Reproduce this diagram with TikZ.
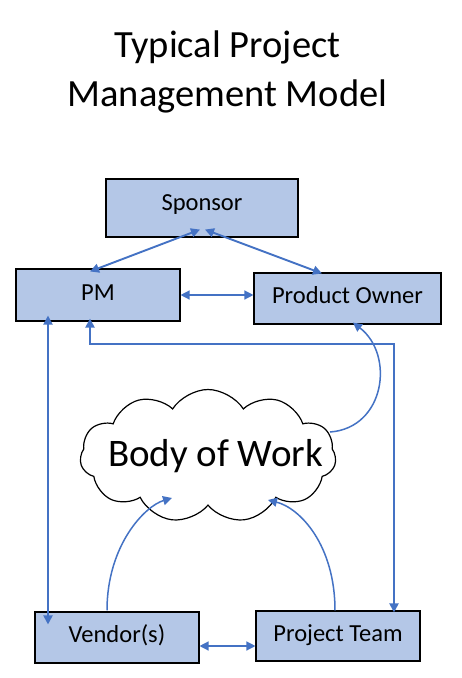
\documentclass[tikz,border=0pt]{standalone}
\usepackage{fontspec}
\setmainfont{Carlito}
\usetikzlibrary{shapes.symbols,arrows.meta,calc}
\definecolor{boxfill}{HTML}{B4C7E7}
\definecolor{linkblue}{HTML}{4472C4}
\begin{document}
\begin{tikzpicture}[x=1pt,y=-1pt,
  box/.style={draw=black, line width=1.1pt, fill=boxfill, inner sep=0pt,
    font=\fontsize{24.5}{28}\selectfont, text height=15pt, text depth=5pt},
  tip/.tip={Triangle[length=9pt,width=9pt]},
  thick link/.style={draw=linkblue, line width=1.9pt},
  thin link/.style={draw=linkblue, line width=1.3pt},
  curve link/.style={draw=linkblue, line width=1.5pt},
]
\useasboundingbox (0,0) rectangle (462,678);
\fill[white] (0,0) rectangle (462,678);

\node[font=\fontsize{38.5}{49}\selectfont, align=center] (title) at (227.5,72)
  {Typical Project\\Management Model};

\node[box, minimum width=192pt, minimum height=58pt, text depth=10pt] (sp) at (202,208) {Sponsor};
\node[box, minimum width=164pt, minimum height=52pt] (pm) at (98,295) {PM};
\node[box, minimum width=187pt, minimum height=51pt] (po) at (347.5,298.5) {Product Owner};
\node[box, minimum width=164pt, minimum height=51pt] (vd) at (117,637.5) {Vendor(s)};
\node[box, minimum width=164pt, minimum height=50pt] (pt) at (338,636) {Project Team};

\node[cloud, draw=black, fill=white, line width=1.2pt, cloud puffs=11, cloud puff arc=115,
  aspect=2.1, minimum width=256pt, minimum height=133pt, inner sep=0pt] (bw) at (208,456) {};
\node[font=\fontsize{39}{42}\selectfont, anchor=base] (bwt) at (215.5,466) {Body of Work};

% Sponsor links
\draw[thick link, tip-tip] ($(pm.north)+(-8,3)$) -- ($(sp.south)+(-2,-8)$);
\draw[thick link, tip-tip] ($(sp.south)+(3,-8)$) -- ($(po.north)+(-25.5,1)$);
% PM - Product Owner
\draw[thin link, tip-tip] (pm.east) -- (pm.east -| po.west);
% PM - Vendor
\draw[thick link, tip-tip] ($(pm.south)+(-50,-6)$) -- ($(vd.north)+(-69,13)$);
% PM - Project Team elbow
\draw[thick link, tip-tip] ($(pm.south)+(-8,-3)$) -- ($(pm.south)+(-8,22)$) -| ($(pt.north)+(56,2)$);
% Vendor - Project Team
\draw[thin link, tip-tip] ($(vd.east)+(0,8.5)$) -- ($(pt.west)+(0,10)$);
% Body of work -> Product Owner
\draw[curve link, -tip] ($(bw.east)+(-6,-24)$) .. controls (385,428) and (395,355) .. ($(po.south)+(5.5,-2)$);
% Vendor -> Body of work
\draw[curve link, -tip] ($(vd.north)+(-10,-1)$) .. controls (107,545) and (145,506) .. ($(bw.center)+(-36,42)$);
% Project Team -> Body of work
\draw[curve link, -tip] ($(pt.north)+(-3,0)$) .. controls (335,545) and (300,508) .. ($(bw.center)+(60,44)$);
\end{tikzpicture}
\end{document}
